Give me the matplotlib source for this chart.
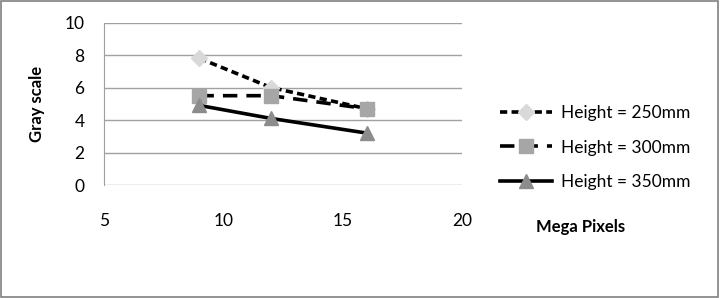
import matplotlib.pyplot as plt
from matplotlib.patches import Rectangle

# Data
mega_pixels = [9, 12, 16]
h250 = [7.8, 6.0, 4.7]
h300 = [5.5, 5.5, 4.7]
h350 = [4.9, 4.1, 3.2]
labels = ['Height = 250mm', 'Height = 300mm', 'Height = 350mm']

plt.rcParams['font.family'] = ['Lato', 'DejaVu Sans']

fig = plt.figure(figsize=(7.21, 2.98), dpi=100)
ax = fig.add_axes([0.1442, 0.379, 0.4966, 0.5453])

ax.plot(mega_pixels, h250, color='black', lw=2.6, linestyle=(0, (2, 1.2)),
        marker='D', ms=8, mfc='#d9d9d9', mec='#d9d9d9', label=labels[0])
ax.plot(mega_pixels, h300, color='black', lw=2.6, linestyle=(0, (4, 2.5)),
        marker='s', ms=10, mfc='#a6a6a6', mec='#a6a6a6', label=labels[1])
ax.plot(mega_pixels, h350, color='black', lw=2.6, linestyle='-',
        marker='^', ms=10, mfc='#8c8c8c', mec='#8c8c8c', label=labels[2])

ax.set_xlim(5, 20)
ax.set_ylim(0, 10)
ax.set_xticks([5, 10, 15, 20])
ax.set_yticks([0, 2, 4, 6, 8, 10])
ax.grid(axis='y', color='#a0a0a0', lw=1)
ax.set_axisbelow(True)
for s in ['top', 'right', 'bottom']:
    ax.spines[s].set_visible(False)
ax.spines['left'].set_color('#a0a0a0')
ax.tick_params(length=0, labelsize=12.5)
ax.tick_params(axis='x', pad=20)
ax.tick_params(axis='y', pad=14)
ax.set_ylabel('Gray scale', fontsize=12, fontweight='bold', labelpad=14)

fig.text(0.805, 0.237, 'Mega Pixels', fontsize=12, fontweight='bold',
         ha='center', va='center')

fig.legend(loc='center left', bbox_to_anchor=(0.672, 0.505), frameon=False,
           fontsize=12.5, handlelength=3.0, handletextpad=0.5, labelspacing=1.05)

fig.patches.append(Rectangle((0.002, 0.005), 0.994, 0.99, transform=fig.transFigure,
                             fill=False, edgecolor='#808080', lw=1.2))

fig.savefig('out.png', dpi=100)
